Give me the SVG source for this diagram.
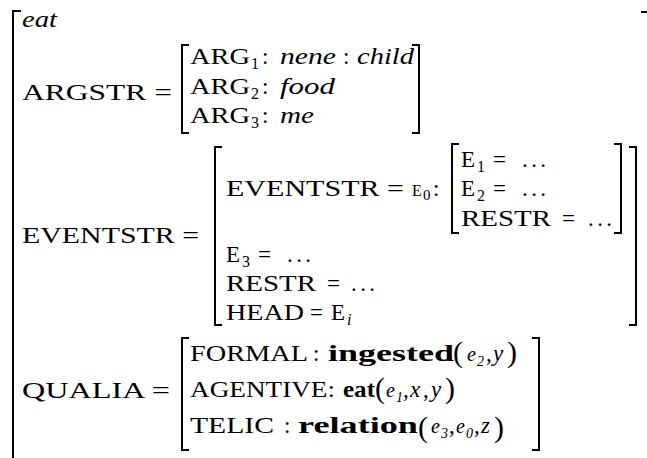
<svg xmlns="http://www.w3.org/2000/svg" width="647" height="458" viewBox="0 0 647 458">
<style>
.t{font-family:"Liberation Serif","Times New Roman",serif;font-size:23px;fill:#000}
.i{font-style:italic}
.b{font-weight:bold}
.s{font-size:16px}
.ss{font-size:14px;font-style:italic}
.p{font-size:30px}
.br{fill:none;stroke:#000;stroke-width:2}
</style>
<rect width="647" height="458" fill="#fff"/>
<g id="brackets">
<path class="br" d="M21 11 H13 V458"/>
<path class="br" d="M641 12 H647"/>
<path class="br" d="M189 45 H182 V133 H189"/>
<path class="br" d="M412 45 H419 V133 H412"/>
<path class="br" d="M222 147 H215 V325 H222"/>
<path class="br" d="M629 147 H636 V325 H629"/>
<path class="br" d="M459 144 H452 V233 H459"/>
<path class="br" d="M614 144 H621 V233 H614"/>
<path class="br" d="M189 338 H182 V450 H189"/>
<path class="br" d="M532 338 H539 V450 H532"/>
</g>
<g id="head">
<text class="t i" x="22" y="27" textLength="35" lengthAdjust="spacingAndGlyphs">eat</text>
</g>
<g id="argstr">
<text class="t" x="22" y="100" textLength="150" lengthAdjust="spacingAndGlyphs">ARGSTR =</text>
<text class="t" x="190" y="64" textLength="60" lengthAdjust="spacingAndGlyphs">ARG</text>
<text class="t s" x="251" y="69">1</text>
<text class="t" x="262" y="64">:</text>
<text class="t i" x="280" y="64" textLength="56" lengthAdjust="spacingAndGlyphs">nene</text>
<text class="t" x="343" y="64">:</text>
<text class="t i" x="357" y="64" textLength="57" lengthAdjust="spacingAndGlyphs">child</text>
<text class="t" x="190" y="94" textLength="60" lengthAdjust="spacingAndGlyphs">ARG</text>
<text class="t s" x="251" y="99">2</text>
<text class="t" x="262" y="94">:</text>
<text class="t i" x="280" y="94" textLength="55" lengthAdjust="spacingAndGlyphs">food</text>
<text class="t" x="190" y="123" textLength="60" lengthAdjust="spacingAndGlyphs">ARG</text>
<text class="t s" x="251" y="128">3</text>
<text class="t" x="262" y="123">:</text>
<text class="t i" x="280" y="123" textLength="34" lengthAdjust="spacingAndGlyphs">me</text>
</g>
<g id="eventstr">
<text class="t" x="22" y="243" textLength="177" lengthAdjust="spacingAndGlyphs">EVENTSTR =</text>
<text class="t" x="226" y="196" textLength="178" lengthAdjust="spacingAndGlyphs">EVENTSTR =</text>
<text class="t" x="412" y="196" style="font-size:16px">E</text>
<text class="t" x="423" y="200" style="font-size:15px">0</text>
<text class="t" x="433" y="196">:</text>
<text class="t" x="461" y="167">E</text>
<text class="t s" x="477" y="172">1</text>
<text class="t" x="493" y="167">=</text>
<text class="t" x="522" y="167" textLength="24" lengthAdjust="spacing">...</text>
<text class="t" x="461" y="196">E</text>
<text class="t s" x="477" y="201">2</text>
<text class="t" x="493" y="196">=</text>
<text class="t" x="522" y="196" textLength="24" lengthAdjust="spacing">...</text>
<text class="t" x="461" y="226" textLength="90" lengthAdjust="spacingAndGlyphs">RESTR</text>
<text class="t" x="562" y="226">=</text>
<text class="t" x="588" y="226" textLength="24" lengthAdjust="spacing">...</text>
<text class="t" x="226" y="262">E</text>
<text class="t s" x="242" y="267">3</text>
<text class="t" x="258" y="262">=</text>
<text class="t" x="287" y="262" textLength="24" lengthAdjust="spacing">...</text>
<text class="t" x="226" y="291" textLength="90" lengthAdjust="spacingAndGlyphs">RESTR</text>
<text class="t" x="327" y="291">=</text>
<text class="t" x="351" y="291" textLength="24" lengthAdjust="spacing">...</text>
<text class="t" x="226" y="320" textLength="78" lengthAdjust="spacingAndGlyphs">HEAD</text>
<text class="t" x="310" y="320">=</text>
<text class="t" x="331" y="320">E</text>
<text class="t s i" x="347" y="325">i</text>
</g>
<g id="qualia">
<text class="t" x="22" y="398" textLength="148" lengthAdjust="spacingAndGlyphs">QUALIA =</text>
<text class="t" x="190" y="361" textLength="118" lengthAdjust="spacingAndGlyphs">FORMAL</text>
<text class="t" x="313" y="361">:</text>
<text class="t b" x="328" y="361" textLength="126" lengthAdjust="spacingAndGlyphs">ingested</text>
<text class="t p" x="453" y="362">(</text>
<text class="t i" x="467" y="361" style="font-size:20px">e</text>
<text class="t ss" x="477" y="366">2</text>
<text class="t" x="486" y="361">,</text>
<text class="t i" x="493" y="361">y</text>
<text class="t p" x="507" y="362">)</text>
<text class="t" x="190" y="397" textLength="145" lengthAdjust="spacingAndGlyphs">AGENTIVE:</text>
<text class="t b" x="343" y="397" textLength="32" lengthAdjust="spacingAndGlyphs">eat</text>
<text class="t p" x="375" y="398">(</text>
<text class="t i" x="386" y="397" style="font-size:20px">e</text>
<text class="t ss" x="396" y="402">1</text>
<text class="t" x="403" y="397">,</text>
<text class="t i" x="410" y="397">x</text>
<text class="t" x="423" y="397">,</text>
<text class="t i" x="431" y="397">y</text>
<text class="t p" x="445" y="398">)</text>
<text class="t" x="190" y="433" textLength="84" lengthAdjust="spacingAndGlyphs">TELIC</text>
<text class="t" x="284" y="433">:</text>
<text class="t b" x="298" y="433" textLength="120" lengthAdjust="spacingAndGlyphs">relation</text>
<text class="t p" x="418" y="437">(</text>
<text class="t i" x="431" y="433" style="font-size:20px">e</text>
<text class="t ss" x="441" y="438">3</text>
<text class="t" x="449" y="433">,</text>
<text class="t i" x="456" y="433" style="font-size:20px">e</text>
<text class="t ss" x="466" y="438">0</text>
<text class="t" x="474" y="433">,</text>
<text class="t i" x="481" y="433">z</text>
<text class="t p" x="494" y="437">)</text>
</g>
</svg>
